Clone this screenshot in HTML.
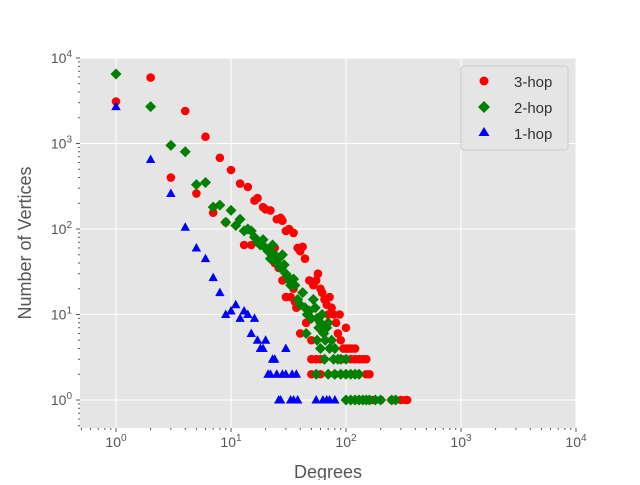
<!DOCTYPE html>
<html><head><meta charset="utf-8"><style>
body{margin:0;background:#fff;}
svg text{font-family:"Liberation Sans",sans-serif;}
</style></head><body>
<svg id="chart" width="640" height="480" xmlns="http://www.w3.org/2000/svg">
<rect x="80" y="58" width="496" height="370" fill="#e5e5e5"/>
<g id="grid"></g><g id="ticks"></g><g id="marks"></g>
<text x="328" y="478" text-anchor="middle" font-size="18" fill="#555">Degrees</text>
<text transform="translate(31,243) rotate(-90)" text-anchor="middle" font-size="18" fill="#555">Number of Vertices</text>
<g>
<rect x="461" y="66" width="107" height="84" rx="3" fill="#e5e5e5" stroke="#ccc"/>
<circle cx="484" cy="81" r="4.5" fill="red"/>
<text x="514" y="87" font-size="15" fill="#333">3-hop</text>
<polygon points="484,101 490,107 484,113 478,107" fill="green"/>
<text x="514" y="113" font-size="15" fill="#333">2-hop</text>
<polygon points="484,127 489.5,136 478.5,136" fill="blue"/>
<text x="514" y="139" font-size="15" fill="#333">1-hop</text>
</g>
</svg>
<script>
const hop1X=[1,2,3,4,5,6,7,8,9,10,11,12,13,14,15,16,17,18,19,20,21,22,23,24,25,26,27,28,30,30,33,34,35,37,38,55,63,68,72,80];
const hop1Y=[2700,650,260,105,60,45,27,18,10,11,13,9,11,10,6,9,5,4,4,5,2,2,3,3,2,1,1,2,2,4,1,2,1,2,1,1,1,1,1,1];
const hop3X=[1,2,3,4,5,6,7,8,9,10,12,13,14,15,16,17,19,20,22,24,25,27,28,30,32,33,35,36,37,38,40,42,44,48,50,52,55,57,60,62,65,68,70,72,75,78,82,85,88,90,95,100,100,110,120,130,140,150,160,50,60,80,100,120,150,200,250,300,330,340,30,28,26,24,35,45,50,55,60,40,65,92,105,112,120,170];
const hop3Y=[3100,5900,400,2400,260,1200,155,680,120,490,340,65,310,65,215,230,180,170,165,40,130,135,125,95,100,16,90,14,12,60,55,62,45,25,3,22,25,30,20,18,15,13,10,16,12,10,8,6,10,5,4,7,4,3,3,3,3,3,2,2,2,2,2,2,2,1,1,1,1,1,16,25,35,60,20,8,5,3,3,6,7,3,4,4,4,1];
const hop2X=[1,2,3,4,5,6,7,8,9,10,11,12,13,14,15,16,17,18,19,20,21,22,23,24,25,26,27,28,29,30,31,32,33,35,36,38,40,42,44,46,48,50,52,54,56,58,60,62,64,66,68,70,72,75,78,80,85,90,100,110,55,70,80,90,100,120,130,150,100,110,120,130,140,160,180,200,250,270,45,60,65,56];
const hop2Y=[6500,2700,950,800,330,350,180,190,120,165,110,130,95,100,95,80,70,65,75,60,55,45,65,50,40,45,35,50,38,30,28,25,22,26,22,15,13,18,12,10,11,9,15,12,9,7,8,10,6,5,7,8,4,5,3,4,3,3,3,2,2,2,2,2,2,2,2,1,1,1,1,1,1,1,1,1,1,1,6,4,3,5];
const xTicks=[0,1,2,3,4];
const yTicks=[0,1,2,3,4];

const NS="http://www.w3.org/2000/svg";
const L=80,R=576,T=58,B=428;
function xs(v){return 116+115*Math.log10(v);}
function ys(v){return 400-85.5*Math.log10(v);}
function mk(tag,attrs,parent){const e=document.createElementNS(NS,tag);for(const k in attrs)e.setAttribute(k,attrs[k]);parent.appendChild(e);return e;}
const grid=document.getElementById('grid'),ticks=document.getElementById('ticks'),marks=document.getElementById('marks');
xTicks.forEach(p=>{const x=xs(Math.pow(10,p));
 const g=mk('line',{x1:x,x2:x,y1:T,y2:B,stroke:'#fff','stroke-width':1},grid);
 
 
 mk('line',{x1:x,x2:x,y1:B,y2:B+4,stroke:'#555'},ticks);
 const t=mk('text',{x:x,y:B+19,'text-anchor':'middle','font-size':'14',fill:'#555'},ticks);
 
 
 t.innerHTML='10<tspan dy="-6" font-size="10">'+p+'</tspan>';
 for(let m=2;m<10;m++){const xm=xs(m*Math.pow(10,p));if(xm<R)mk('line',{x1:xm,x2:xm,y1:B,y2:B+2,stroke:'#555'},ticks);}
});
for(let m=5;m<10;m++){const xm=xs(m/10);if(xm>L)mk('line',{x1:xm,x2:xm,y1:B,y2:B+2,stroke:'#555'},ticks);}
yTicks.forEach(p=>{const y=ys(Math.pow(10,p));
 const g=mk('line',{x1:L,x2:R,y1:y,y2:y,stroke:'#fff','stroke-width':1},grid);
 
 
 mk('line',{x1:L-4,x2:L,y1:y,y2:y,stroke:'#555'},ticks);
 const t=mk('text',{x:L-8,y:y+5,'text-anchor':'end','font-size':'14',fill:'#555'},ticks);
 
 
 t.innerHTML='10<tspan dy="-6" font-size="10">'+p+'</tspan>';
 for(let m=2;m<10;m++){const ym=ys(m*Math.pow(10,p));if(ym>T)mk('line',{x1:L-2,x2:L,y1:ym,y2:ym,stroke:'#555'},ticks);}
});
for(let m=5;m<10;m++){const ym=ys(m/10);if(ym<B)mk('line',{x1:L-2,x2:L,y1:ym,y2:ym,stroke:'#555'},ticks);}
hop3X.forEach((d,i)=>{const c=mk('circle',{cx:xs(d),cy:ys(hop3Y[i]),r:4.3,fill:'red'},marks);
 
 });
hop2X.forEach((d,i)=>{const x=xs(d),y=ys(hop2Y[i]);
 const p=mk('polygon',{points:`${x},${y-5.5} ${x+5.5},${y} ${x},${y+5.5} ${x-5.5},${y}`,fill:'green'},marks);
 
 });
hop1X.forEach((d,i)=>{const x=xs(d),y=ys(hop1Y[i]);
 const p=mk('polygon',{points:`${x},${y-5} ${x+4.7},${y+3.5} ${x-4.7},${y+3.5}`,fill:'blue'},marks);
 
 });
</script>
</body></html>
